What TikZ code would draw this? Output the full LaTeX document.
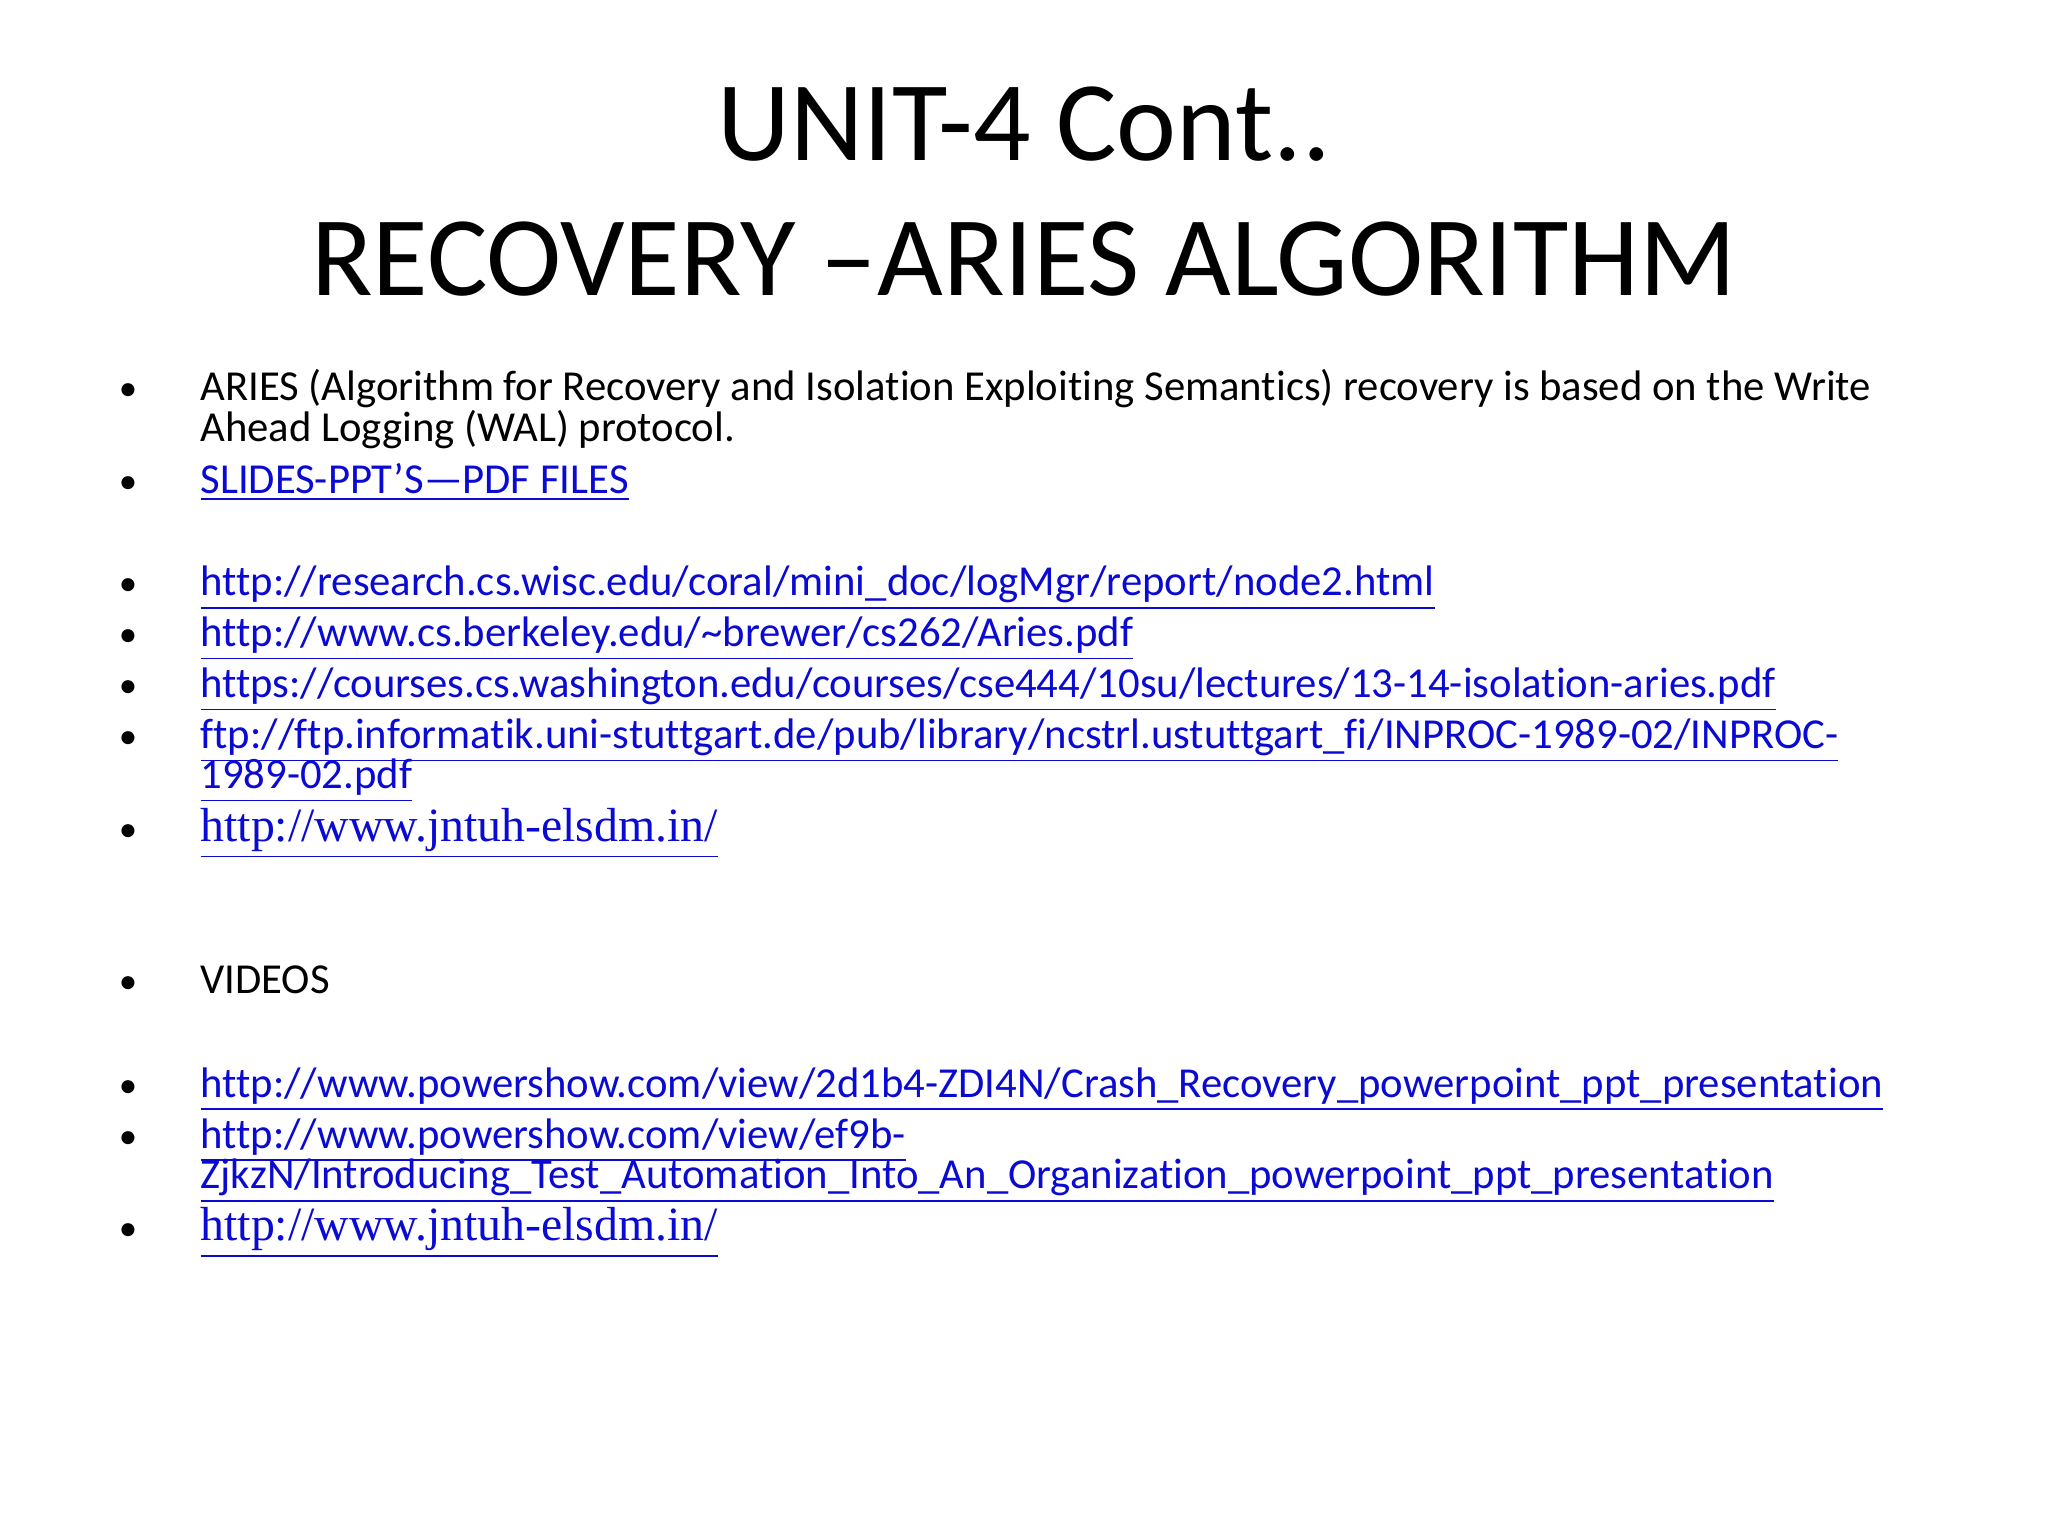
\documentclass[tikz,border=0pt]{standalone}
\usepackage{fontspec}
\setmainfont[Ligatures=NoCommon]{Carlito}
\newfontfamily\serifl{Liberation Serif}
\definecolor{lnk}{RGB}{10,10,210}
\newcommand{\lk}[1]{\textcolor{lnk}{\underline{#1}}}
\begin{document}
\begin{tikzpicture}[x=0.013061cm,y=-0.013061cm,
  title/.style={anchor=base,font=\fontsize{32.3}{38}\selectfont},
  body/.style={anchor=base west,inner sep=0,font=\fontsize{12.15}{14}\selectfont},
  ser/.style={anchor=base west,inner sep=0,font=\serifl\fontsize{13.6}{16}\selectfont},
  bul/.style={anchor=base,inner sep=0,font=\fontsize{10.5}{12}\selectfont}]
\useasboundingbox (0,0) rectangle (1568,1176);
\node[title] (t1) at (784,123) {UNIT-4 Cont..};
\node[title] (t2) at (784,226) {RECOVERY –ARIES ALGORITHM};
\foreach \y in {307,378,456,495,534,573,644,761,840,879,950}{
  \node[bul] at (98,\y) {•};}
\node[body] (l1) at (153,307) {ARIES (Algorithm for Recovery and Isolation Exploiting Semantics) recovery is based on the Write};
\node[body] (l1b) at (153,338) {Ahead Logging (WAL) protocol.};
\node[body] (l2) at (153,378) {\lk{SLIDES-PPT’S—PDF FILES}};
\node[body] (l3) at (153,456) {\lk{http://research.cs.wisc.edu/coral/mini\_doc/logMgr/report/node2.html}};
\node[body] (l4) at (153,495) {\lk{http://www.cs.berkeley.edu/\textasciitilde brewer/cs262/Aries.pdf}};
\node[body] (l5) at (153,534) {\lk{https://courses.cs.washington.edu/courses/cse444/10su/lectures/13-14-isolation-aries.pdf}};
\node[body] (l6) at (153,573) {\lk{ftp://ftp.informatik.uni-stuttgart.de/pub/library/ncstrl.ustuttgart\_fi/INPROC-1989-02/INPROC-}};
\node[body] (l6b) at (153,604) {\lk{1989-02.pdf}};
\node[ser] (l7) at (153,644) {\lk{http://www.jntuh-elsdm.in/}};
\node[body] (l8) at (153,761) {VIDEOS};
\node[body] (l9) at (153,840) {\lk{http://www.powershow.com/view/2d1b4-ZDI4N/Crash\_Recovery\_powerpoint\_ppt\_presentation}};
\node[body] (l10) at (153,879) {\lk{http://www.powershow.com/view/ef9b-}};
\node[body] (l10b) at (153,910) {\lk{ZjkzN/Introducing\_Test\_Automation\_Into\_An\_Organization\_powerpoint\_ppt\_presentation}};
\node[ser] (l11) at (153,950) {\lk{http://www.jntuh-elsdm.in/}};
\end{tikzpicture}
\end{document}
